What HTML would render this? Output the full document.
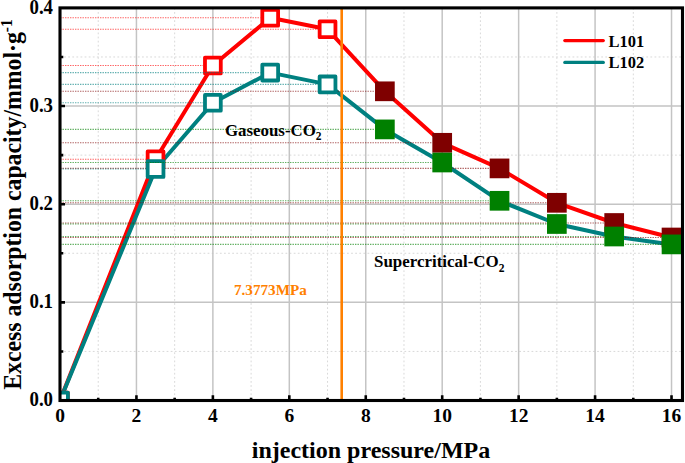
<!DOCTYPE html><html><head><meta charset="utf-8"><style>html,body{margin:0;padding:0;background:#fff;}svg{display:block;}text{font-family:"Liberation Serif",serif;font-weight:bold;}</style></head><body>
<svg width="685" height="463" viewBox="0 0 685 463">
<defs><clipPath id="pc"><rect x="60.0" y="7.9" width="622.5" height="392.6"/></clipPath></defs>
<rect width="685" height="463" fill="#fff"/>
<g clip-path="url(#pc)">
<path d="M98.22 7.9V400.5M174.66 7.9V400.5M251.10 7.9V400.5M327.54 7.9V400.5M403.98 7.9V400.5M480.42 7.9V400.5M556.86 7.9V400.5M633.30 7.9V400.5" stroke="#d9d9d9" stroke-width="1" stroke-dasharray="1.8 2.3" fill="none"/>
<path d="M60.0 351.43H682.5M60.0 253.28H682.5M60.0 155.12H682.5M60.0 56.98H682.5" stroke="#d9d9d9" stroke-width="1" stroke-dasharray="1.8 2.3" fill="none"/>
<path d="M136.44 7.9V400.5M212.88 7.9V400.5M289.32 7.9V400.5M365.76 7.9V400.5M442.20 7.9V400.5M518.64 7.9V400.5M595.08 7.9V400.5M671.52 7.9V400.5M60.0 302.35H682.5M60.0 204.20H682.5M60.0 106.05H682.5" stroke="#c4c4c4" stroke-width="1.5" fill="none"/>
<polyline points="60.00,400.50 155.55,159.30 212.88,65.50 270.21,17.80 327.54,29.30 384.87,91.30 442.20,142.80 499.53,168.40 556.86,202.80 614.19,223.00 671.52,237.50" fill="none" stroke="#ff0000" stroke-width="4.0" stroke-linejoin="round"/>
<polyline points="60.00,400.50 155.55,169.00 212.88,102.80 270.21,72.60 327.54,84.40 384.87,129.40 442.20,162.50 499.53,200.80 556.86,224.00 614.19,236.50 671.52,244.40" fill="none" stroke="#008080" stroke-width="4.0" stroke-linejoin="round"/>
<rect x="52.10" y="392.60" width="15.80" height="15.80" fill="#fff" stroke="#ff0000" stroke-width="3.80" stroke-linejoin="round"/><rect x="147.65" y="151.40" width="15.80" height="15.80" fill="#fff" stroke="#ff0000" stroke-width="3.80" stroke-linejoin="round"/><rect x="204.98" y="57.60" width="15.80" height="15.80" fill="#fff" stroke="#ff0000" stroke-width="3.80" stroke-linejoin="round"/><rect x="262.31" y="9.90" width="15.80" height="15.80" fill="#fff" stroke="#ff0000" stroke-width="3.80" stroke-linejoin="round"/><rect x="319.64" y="21.40" width="15.80" height="15.80" fill="#fff" stroke="#ff0000" stroke-width="3.80" stroke-linejoin="round"/><rect x="375.02" y="81.45" width="19.70" height="19.70" fill="#7f0000"/><rect x="432.35" y="132.95" width="19.70" height="19.70" fill="#7f0000"/><rect x="489.68" y="158.55" width="19.70" height="19.70" fill="#7f0000"/><rect x="547.01" y="192.95" width="19.70" height="19.70" fill="#7f0000"/><rect x="604.34" y="213.15" width="19.70" height="19.70" fill="#7f0000"/><rect x="661.67" y="227.65" width="19.70" height="19.70" fill="#7f0000"/><path d="M60.0 159.30H145.75" stroke="#ff0000" stroke-opacity="0.62" stroke-width="1.1" stroke-dasharray="1.4 1.1"/><path d="M60.0 65.50H203.08" stroke="#ff0000" stroke-opacity="0.62" stroke-width="1.1" stroke-dasharray="1.4 1.1"/><path d="M60.0 17.80H260.41" stroke="#ff0000" stroke-opacity="0.62" stroke-width="1.1" stroke-dasharray="1.4 1.1"/><path d="M60.0 29.30H317.74" stroke="#ff0000" stroke-opacity="0.62" stroke-width="1.1" stroke-dasharray="1.4 1.1"/><path d="M60.0 91.30H375.07" stroke="#7f0000" stroke-opacity="0.62" stroke-width="1.1" stroke-dasharray="1.4 1.1"/><path d="M60.0 142.80H432.40" stroke="#7f0000" stroke-opacity="0.62" stroke-width="1.1" stroke-dasharray="1.4 1.1"/><path d="M60.0 168.40H489.73" stroke="#7f0000" stroke-opacity="0.62" stroke-width="1.1" stroke-dasharray="1.4 1.1"/><path d="M60.0 202.80H547.06" stroke="#7f0000" stroke-opacity="0.62" stroke-width="1.1" stroke-dasharray="1.4 1.1"/><path d="M60.0 223.00H604.39" stroke="#7f0000" stroke-opacity="0.62" stroke-width="1.1" stroke-dasharray="1.4 1.1"/><path d="M60.0 237.50H661.72" stroke="#7f0000" stroke-opacity="0.62" stroke-width="1.1" stroke-dasharray="1.4 1.1"/>
<rect x="52.10" y="392.60" width="15.80" height="15.80" fill="#fff" stroke="#008080" stroke-width="3.80" stroke-linejoin="round"/><rect x="147.65" y="161.10" width="15.80" height="15.80" fill="#fff" stroke="#008080" stroke-width="3.80" stroke-linejoin="round"/><rect x="204.98" y="94.90" width="15.80" height="15.80" fill="#fff" stroke="#008080" stroke-width="3.80" stroke-linejoin="round"/><rect x="262.31" y="64.70" width="15.80" height="15.80" fill="#fff" stroke="#008080" stroke-width="3.80" stroke-linejoin="round"/><rect x="319.64" y="76.50" width="15.80" height="15.80" fill="#fff" stroke="#008080" stroke-width="3.80" stroke-linejoin="round"/><rect x="375.02" y="119.55" width="19.70" height="19.70" fill="#008000"/><rect x="432.35" y="152.65" width="19.70" height="19.70" fill="#008000"/><rect x="489.68" y="190.95" width="19.70" height="19.70" fill="#008000"/><rect x="547.01" y="214.15" width="19.70" height="19.70" fill="#008000"/><rect x="604.34" y="226.65" width="19.70" height="19.70" fill="#008000"/><rect x="661.67" y="234.55" width="19.70" height="19.70" fill="#008000"/><path d="M60.0 169.00H145.75" stroke="#008080" stroke-opacity="0.62" stroke-width="1.1" stroke-dasharray="1.4 1.1"/><path d="M60.0 102.80H203.08" stroke="#008080" stroke-opacity="0.62" stroke-width="1.1" stroke-dasharray="1.4 1.1"/><path d="M60.0 72.60H260.41" stroke="#008080" stroke-opacity="0.62" stroke-width="1.1" stroke-dasharray="1.4 1.1"/><path d="M60.0 84.40H317.74" stroke="#008080" stroke-opacity="0.62" stroke-width="1.1" stroke-dasharray="1.4 1.1"/><path d="M60.0 129.40H375.07" stroke="#008000" stroke-opacity="0.62" stroke-width="1.1" stroke-dasharray="1.4 1.1"/><path d="M60.0 162.50H432.40" stroke="#008000" stroke-opacity="0.62" stroke-width="1.1" stroke-dasharray="1.4 1.1"/><path d="M60.0 200.80H489.73" stroke="#008000" stroke-opacity="0.62" stroke-width="1.1" stroke-dasharray="1.4 1.1"/><path d="M60.0 224.00H547.06" stroke="#008000" stroke-opacity="0.62" stroke-width="1.1" stroke-dasharray="1.4 1.1"/><path d="M60.0 236.50H604.39" stroke="#008000" stroke-opacity="0.62" stroke-width="1.1" stroke-dasharray="1.4 1.1"/><path d="M60.0 244.40H661.72" stroke="#008000" stroke-opacity="0.62" stroke-width="1.1" stroke-dasharray="1.4 1.1"/>
<path d="M341.7 7.9V400.5" stroke="#ff8000" stroke-width="2.6"/>
</g>
<path d="M98.22 400.5V397.7M136.44 400.5V395.2M174.66 400.5V397.7M212.88 400.5V395.2M251.10 400.5V397.7M289.32 400.5V395.2M327.54 400.5V397.7M365.76 400.5V395.2M403.98 400.5V397.7M442.20 400.5V395.2M480.42 400.5V397.7M518.64 400.5V395.2M556.86 400.5V397.7M595.08 400.5V395.2M633.30 400.5V397.7M671.52 400.5V395.2M60.0 351.43H63.3M60.0 302.35H65.0M60.0 253.27H63.3M60.0 204.20H65.0M60.0 155.12H63.3M60.0 106.05H65.0M60.0 56.97H63.3" stroke="#000" stroke-width="2.6" fill="none"/>
<rect x="60.0" y="7.9" width="622.5" height="392.6" fill="none" stroke="#000" stroke-width="3.1"/>
<text x="60.00" y="421.8" font-size="19.5" text-anchor="middle">0</text>
<text x="136.44" y="421.8" font-size="19.5" text-anchor="middle">2</text>
<text x="212.88" y="421.8" font-size="19.5" text-anchor="middle">4</text>
<text x="289.32" y="421.8" font-size="19.5" text-anchor="middle">6</text>
<text x="365.76" y="421.8" font-size="19.5" text-anchor="middle">8</text>
<text x="442.20" y="421.8" font-size="19.5" text-anchor="middle">10</text>
<text x="518.64" y="421.8" font-size="19.5" text-anchor="middle">12</text>
<text x="595.08" y="421.8" font-size="19.5" text-anchor="middle">14</text>
<text x="671.52" y="421.8" font-size="19.5" text-anchor="middle">16</text>
<text transform="translate(53 406.30) scale(0.94 1)" font-size="20" text-anchor="end">0.0</text>
<text transform="translate(53 308.15) scale(0.94 1)" font-size="20" text-anchor="end">0.1</text>
<text transform="translate(53 210.00) scale(0.94 1)" font-size="20" text-anchor="end">0.2</text>
<text transform="translate(53 111.85) scale(0.94 1)" font-size="20" text-anchor="end">0.3</text>
<text transform="translate(53 13.70) scale(0.94 1)" font-size="20" text-anchor="end">0.4</text>
<text x="371" y="457.8" font-size="24" text-anchor="middle">injection pressure/MPa</text>
<text transform="translate(21.20 204.50) rotate(-90) scale(0.9700 1)" x="0" y="0" font-size="24.50" text-anchor="middle">Excess adsorption capacity/mmol·g<tspan font-size="16.00" dy="-9.00">-1</tspan></text>
<text transform="translate(225.0 135.6) scale(0.958 1)" font-size="17.6">Gaseous-CO<tspan font-size="12" dy="4.8">2</tspan></text>
<text transform="translate(374 267.0) scale(0.962 1)" font-size="17.6">Supercritical-CO<tspan font-size="12" dy="4.8">2</tspan></text>
<text transform="translate(234 294.8) scale(0.984 1)" font-size="15.4" fill="#ff8000">7.3773MPa</text>
<path d="M564.8 40.6H603.3" stroke="#ff0000" stroke-width="3.2" stroke-linecap="round"/>
<path d="M564.8 62.4H603.3" stroke="#008080" stroke-width="3.2" stroke-linecap="round"/>
<text transform="translate(608.5 46.5) scale(0.935 1)" font-size="17.6">L101</text>
<text transform="translate(608.5 68.3) scale(0.935 1)" font-size="17.6">L102</text>
</svg></body></html>
